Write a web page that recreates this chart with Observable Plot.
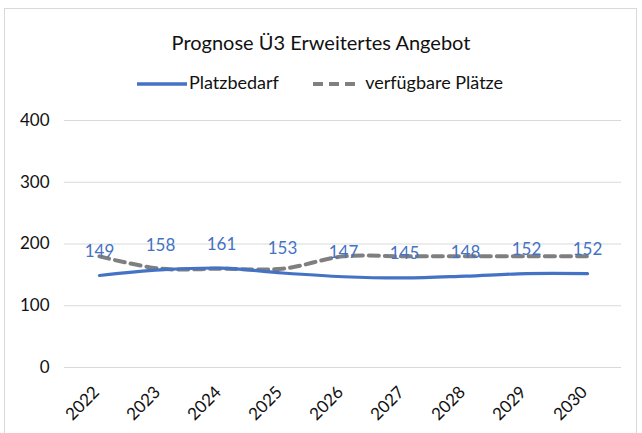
<!DOCTYPE html>
<html><head><meta charset="utf-8">
<script src="https://cdn.jsdelivr.net/npm/d3@7"></script>
<script src="https://cdn.jsdelivr.net/npm/@observablehq/plot@0.6"></script>
<style>
body{margin:0;background:#fff;font-family:Lato,"Noto Sans",sans-serif;}
#frame{position:absolute;left:4px;top:8px;width:633px;height:428px;border:1px solid #d9d9d9;box-sizing:border-box;}
#title{position:absolute;left:0;top:30px;width:642px;text-align:center;font-size:20px;line-height:24px;color:#111;}
.leg{position:absolute;top:71px;font-size:18px;color:#111;line-height:22px;white-space:nowrap;}
.leg svg{vertical-align:middle;margin-right:2px;}
#chart{position:absolute;left:0;top:100px;}
</style></head>
<body>
<div id="frame"></div>
<div id="title">Prognose Ü3 Erweitertes Angebot</div>
<div class="leg" style="left:137px"><svg width="50" height="8"><line x1="0" y1="4" x2="50" y2="4" stroke="#4472C4" stroke-width="3.5"/></svg>Platzbedarf</div>
<div class="leg" style="left:313px"><svg width="46" height="8"><line x1="0" y1="4" x2="45" y2="4" stroke="#7f7f7f" stroke-width="4" stroke-dasharray="10,6"/></svg> verfügbare Plätze</div>
<div id="chart"></div>
<script>
const years = ["2022","2023","2024","2025","2026","2027","2028","2029","2030"];
const platzbedarf = [149,158,161,153,147,145,148,152,152];
const verfuegbarePlaetze = [180,160,160,160,180,180,180,180,180];
const yTicks = [0,100,200,300,400];

const bedarfData = years.map((y,i)=>({year:y, value:platzbedarf[i]}));
const plaetzeData = years.map((y,i)=>({year:y, value:verfuegbarePlaetze[i]}));

const chart = Plot.plot({
  width: 642,
  height: 333,
  marginLeft: 64,
  marginRight: 21,
  marginTop: 20,
  marginBottom: 66,
  style: {fontFamily: "Lato, 'Noto Sans', sans-serif", background: "transparent"},
  x: {type: "point", domain: years, padding: 0.5, label: null},
  y: {domain: [0,400], label: null},
  marks: [
    Plot.ruleY(yTicks, {stroke: "#d9d9d9", strokeWidth: 1.2}),
    Plot.axisY(yTicks, {tickSize: 0, tickPadding: 15, fontSize: 17, fill: "#111", label: null}),
    Plot.axisX({tickSize: 0, tickPadding: 22, tickRotate: -45, fontSize: 17, fill: "#111", label: null, dx: -3}),
    Plot.line(plaetzeData, {x: "year", y: "value", stroke: "#7f7f7f", strokeWidth: 4, strokeDasharray: "10,6", curve: "catmull-rom"}),
    Plot.line(bedarfData, {x: "year", y: "value", stroke: "#4472C4", strokeWidth: 3.2, curve: "catmull-rom"}),
    Plot.text(bedarfData, {x: "year", y: "value", text: d => String(d.value), dy: -24, fill: "#4472C4", fontSize: 17})
  ]
});
document.getElementById("chart").appendChild(chart);
</script>
</body></html>
